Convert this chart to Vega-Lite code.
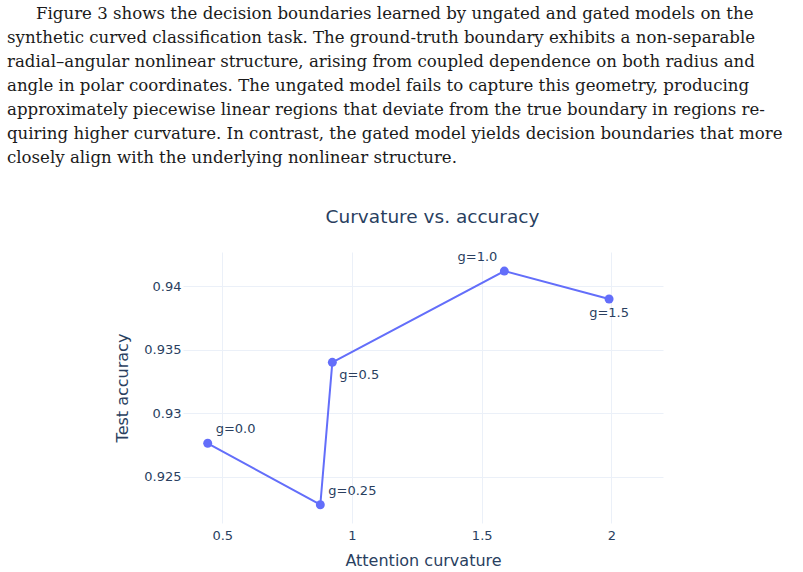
{
  "$schema": "https://vega.github.io/schema/vega-lite/v6.json",
  "autosize": {"type": "none"},
  "padding": {"left": 183, "top": 252, "right": 140, "bottom": 49},
  "width": 480,
  "height": 271,
  "background": "white",
  "title": {
    "text": [
      "\u200b\u2003\u2002\u2005Figure 3 shows the decision boundaries learned by ungated and gated models on the",
      "synthetic curved classification task.  The ground-truth boundary exhibits a non-separable",
      "radial–angular nonlinear structure, arising from coupled dependence on both radius and",
      "angle in polar coordinates.  The ungated model fails to capture this geometry, producing",
      "approximately piecewise linear regions that deviate from the true boundary in regions re-",
      "quiring higher curvature. In contrast, the gated model yields decision boundaries that more",
      "closely align with the underlying nonlinear structure."
    ],
    "anchor": "start",
    "frame": "group",
    "dx": -176,
    "offset": 40,
    "font": "DejaVu Serif",
    "fontSize": 16.6,
    "fontWeight": "normal",
    "color": "#1a1a1a",
    "lineHeight": 24
  },
  "config": {
    "view": {"stroke": null},
    "axis": {
      "labelFont": "DejaVu Sans",
      "titleFont": "DejaVu Sans",
      "labelColor": "#2a3f5f",
      "titleColor": "#2a3f5f",
      "labelFontSize": 13,
      "titleFontSize": 16,
      "titleFontWeight": "normal",
      "gridColor": "#EBF0F8",
      "gridWidth": 1,
      "domain": false,
      "ticks": false,
      "tickSize": 0
    }
  },
  "data": {
    "values": [
      {"g": 0.0, "curvature": 0.4438, "accuracy": 0.92763, "label": "g=0.0", "pos": "top right"},
      {"g": 0.25, "curvature": 0.8779, "accuracy": 0.92279, "label": "g=0.25", "pos": "top right"},
      {"g": 0.5, "curvature": 0.9242, "accuracy": 0.93401, "label": "g=0.5", "pos": "bottom right"},
      {"g": 1.0, "curvature": 1.5872, "accuracy": 0.9412, "label": "g=1.0", "pos": "top left"},
      {"g": 1.5, "curvature": 1.9909, "accuracy": 0.9390, "label": "g=1.5", "pos": "bottom center"}
    ]
  },
  "encoding": {
    "y": {
      "field": "accuracy",
      "type": "quantitative",
      "scale": {"domain": [0.92135, 0.9427], "nice": false, "zero": false},
      "axis": {
        "title": "Test accuracy",
        "values": [0.925, 0.93, 0.935, 0.94],
        "format": ".3~f",
        "labelPadding": 2,
        "titleBaseline": "middle",
        "titleX": -61
      }
    }
  },
  "resolve": {"axis": {"x": "independent"}},
  "layer": [
    {
      "mark": {"type": "line", "color": "#636efa", "strokeWidth": 2},
      "encoding": {
        "x": {
          "field": "curvature",
          "type": "quantitative",
          "scale": {"domain": [0.3486, 2.1988], "nice": false, "zero": false},
          "axis": {
            "title": "Attention curvature",
            "values": [0.5, 1, 1.5, 2],
            "format": "~g",
            "labelPadding": 6,
            "titleBaseline": "alphabetic",
            "titleY": 42
          }
        },
        "order": {"field": "g", "type": "quantitative"}
      }
    },
    {
      "mark": {"type": "point", "filled": true, "color": "#636efa", "opacity": 1, "size": 80},
      "encoding": {
        "x": {
          "field": "curvature",
          "type": "quantitative",
          "axis": {
            "orient": "top",
            "title": "Curvature vs. accuracy",
            "labels": false,
            "grid": false,
            "titleFontSize": 18.5,
            "titleBaseline": "alphabetic",
            "titleX": 249,
            "titleY": -30
          }
        }
      }
    },
    {
      "transform": [{"filter": "datum.pos === 'top right'"}],
      "mark": {"type": "text", "align": "left", "baseline": "middle", "dx": 8, "dy": -14, "font": "DejaVu Sans", "fontSize": 13, "color": "#2a3f5f"},
      "encoding": {
        "x": {"field": "curvature", "type": "quantitative", "axis": null},
        "text": {"field": "label"}
      }
    },
    {
      "transform": [{"filter": "datum.pos === 'bottom right'"}],
      "mark": {"type": "text", "align": "left", "baseline": "middle", "dx": 7, "dy": 13, "font": "DejaVu Sans", "fontSize": 13, "color": "#2a3f5f"},
      "encoding": {
        "x": {"field": "curvature", "type": "quantitative", "axis": null},
        "text": {"field": "label"}
      }
    },
    {
      "transform": [{"filter": "datum.pos === 'top left'"}],
      "mark": {"type": "text", "align": "right", "baseline": "middle", "dx": -7, "dy": -14, "font": "DejaVu Sans", "fontSize": 13, "color": "#2a3f5f"},
      "encoding": {
        "x": {"field": "curvature", "type": "quantitative", "axis": null},
        "text": {"field": "label"}
      }
    },
    {
      "transform": [{"filter": "datum.pos === 'bottom center'"}],
      "mark": {"type": "text", "align": "center", "baseline": "middle", "dx": 0, "dy": 14, "font": "DejaVu Sans", "fontSize": 13, "color": "#2a3f5f"},
      "encoding": {
        "x": {"field": "curvature", "type": "quantitative", "axis": null},
        "text": {"field": "label"}
      }
    }
  ]
}
